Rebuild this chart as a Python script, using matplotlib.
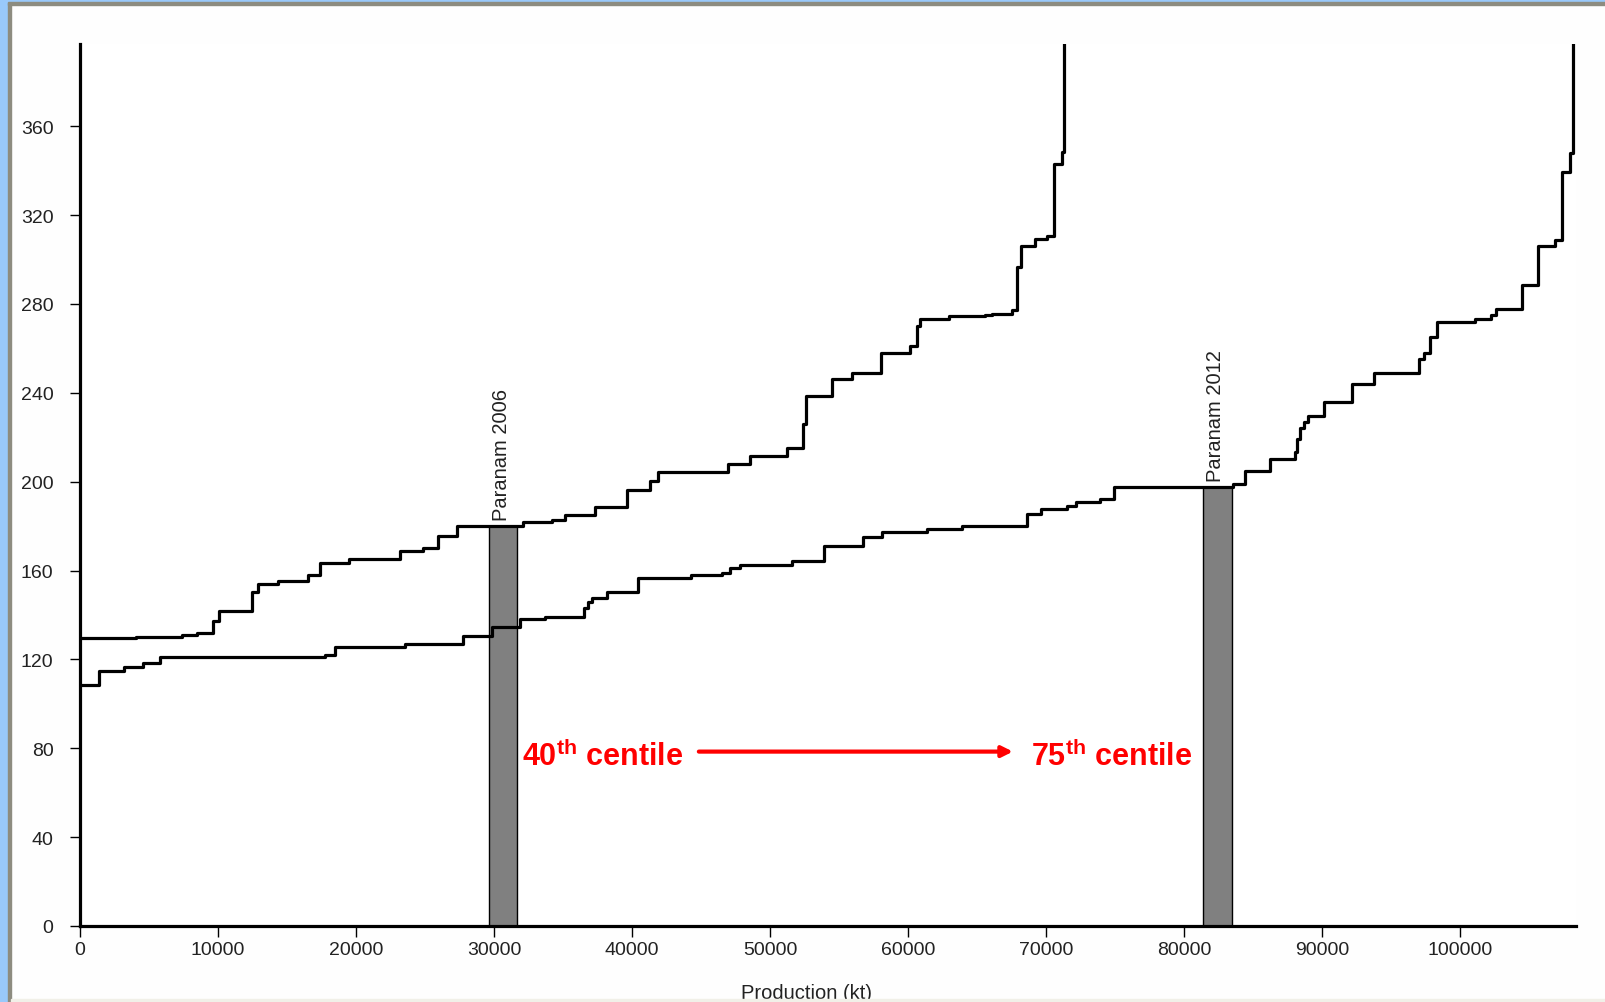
import matplotlib
matplotlib.use('Agg')
import matplotlib.pyplot as plt
from matplotlib import font_manager
from matplotlib.patches import Rectangle

# step curves: x where each level starts, and the level (cost)
x_2006 = [0, 4060, 7370, 8450, 9660, 10050, 12440, 12920, 14350, 16520, 17400,
          19500, 23200, 24850, 25970, 27300, 32120, 34180, 35150, 37320, 39610,
          41300, 41910, 46980, 48550, 51210, 52420, 52600, 54460, 55950, 58040,
          60120, 60640, 60900, 63000, 65600, 66060, 67510, 67900, 68170, 69200,
          70050, 70600, 71140, 71300]
y_2006 = [129.5, 130.3, 131.1, 132.1, 137.4, 141.9, 150.2, 153.9, 155.4, 158.0, 163.6,
          165.0, 168.7, 170.0, 175.6, 179.9, 181.7, 182.7, 185.0, 188.7, 196.2,
          200.4, 204.2, 207.9, 211.4, 215.1, 226.0, 238.7, 246.0, 248.8, 258.0,
          261.0, 270.0, 273.3, 274.5, 275.0, 275.4, 277.4, 296.7, 306.2, 309.2,
          310.7, 342.9, 348.2, 400.0]

x_2012 = [0, 1400, 3210, 4590, 5800, 17750, 18480, 23550, 27780, 29830, 31880,
          33700, 36500, 36800, 37100, 38200, 40400, 44300, 46500, 47100, 47800,
          51600, 53900, 56700, 58100, 61400, 63900, 68600, 69600, 71500, 72200,
          73900, 74900, 83570, 84420, 86230, 88040, 88200, 88400, 88700, 89000,
          90150, 92150, 93750, 97050, 97350, 97850, 98350, 101100, 102250, 102600,
          104500, 105650, 106900, 107400, 107950, 108200]
y_2012 = [108.5, 114.9, 116.4, 118.2, 121.2, 122.0, 125.4, 126.9, 130.4, 134.4, 138.2,
          138.9, 143.0, 146.0, 147.5, 150.5, 156.7, 158.0, 159.0, 161.0, 162.5,
          164.5, 171.0, 175.0, 177.4, 178.5, 180.0, 185.6, 187.5, 189.0, 191.0,
          192.2, 197.4, 198.9, 204.9, 210.2, 213.3, 219.0, 224.0, 227.0, 229.5,
          236.0, 243.8, 248.8, 255.0, 258.0, 265.0, 272.0, 273.3, 275.0, 277.9,
          288.5, 306.0, 308.8, 339.6, 348.0, 400.0]

# Paranam bars
bar_names = ['Paranam 2006', 'Paranam 2012']
bar_x = [30625, 82400]
bar_w = [2030, 2100]
bar_h = [179.9, 197.4]

xticks = list(range(0, 100001, 10000))
yticks = list(range(0, 361, 40))

names = {f.name for f in font_manager.fontManager.ttflist}
if 'Liberation Sans Narrow' in names:
    tfont, tsize = 'Liberation Sans Narrow', 16
else:
    tfont, tsize = 'Liberation Sans', 14

plt.rcParams['font.family'] = [tfont, 'DejaVu Sans']
plt.rcParams['mathtext.fontset'] = 'custom'
plt.rcParams['mathtext.rm'] = 'Liberation Sans'
plt.rcParams['mathtext.bf'] = 'Liberation Sans:bold'

W, H = 1606, 1003
fig = plt.figure(figsize=(W / 100, H / 100), dpi=100)
fig.patch.set_facecolor('#fefefe')

ax = fig.add_axes([80 / W, 1 - 927 / H, (1576 - 80) / W, (927 - 45) / H])
ax.set_xlim(0, 108400)
ax.set_ylim(0, 397)

ax.bar(bar_x, bar_h, width=bar_w, color='#808080', edgecolor='black', linewidth=1, zorder=2)
ax.step(x_2006, y_2006, where='post', color='black', lw=2.3, zorder=3)
ax.step(x_2012, y_2012, where='post', color='black', lw=2.3, zorder=3)

for nm, bx, bh in zip(bar_names, bar_x, bar_h):
    ax.text(bx - 100, bh + 3, nm, rotation=90, ha='center', va='bottom',
            fontsize=tsize + 0.5, color='#222222')

# centile annotation
ax.text(32030, 72.5, r'$\mathbf{40^{th}}$ centile', color='red', fontsize=22,
        fontweight='bold', family='Liberation Sans', ha='left', va='baseline')
ax.text(68930, 72.5, r'$\mathbf{75^{th}}$ centile', color='red', fontsize=22,
        fontweight='bold', family='Liberation Sans', ha='left', va='baseline')
ax.annotate('', xy=(67800, 78.5), xytext=(44640, 78.5),
            arrowprops=dict(arrowstyle='-|>', color='red', lw=3, mutation_scale=16))

for s in ['top', 'right']:
    ax.spines[s].set_visible(False)
for s in ['left', 'bottom']:
    ax.spines[s].set_linewidth(2.3)
ax.set_xticks(xticks)
ax.set_yticks(yticks)
ax.tick_params(axis='y', length=7, width=1, pad=12, labelsize=tsize, labelcolor='#222222')
ax.tick_params(axis='x', length=8, width=1, pad=3, labelsize=tsize, labelcolor='#222222')

fig.text(807 / W, 1 - 984 / H, 'Production (kt)', ha='center', va='top',
         fontsize=tsize + 0.5, color='#222222')

# window frame around the screenshot
fig.patches.append(Rectangle((0, 0), 8 / W, 1, transform=fig.transFigure, color='#99c9fb', zorder=10))
fig.patches.append(Rectangle((8 / W, 0), 3 / W, 1, transform=fig.transFigure, color='#8d8c80', zorder=10))
fig.patches.append(Rectangle((0, 1 - 3 / H), 1, 3 / H, transform=fig.transFigure, color='#99c9fb', zorder=10))
fig.patches.append(Rectangle((8 / W, 1 - 6 / H), 1, 3 / H, transform=fig.transFigure, color='#8d8c80', zorder=10))
fig.patches.append(Rectangle((11 / W, 0), 1, 3 / H, transform=fig.transFigure, color='#f1f0e8', zorder=10))

fig.savefig('out.png', dpi=100, facecolor=fig.get_facecolor())
